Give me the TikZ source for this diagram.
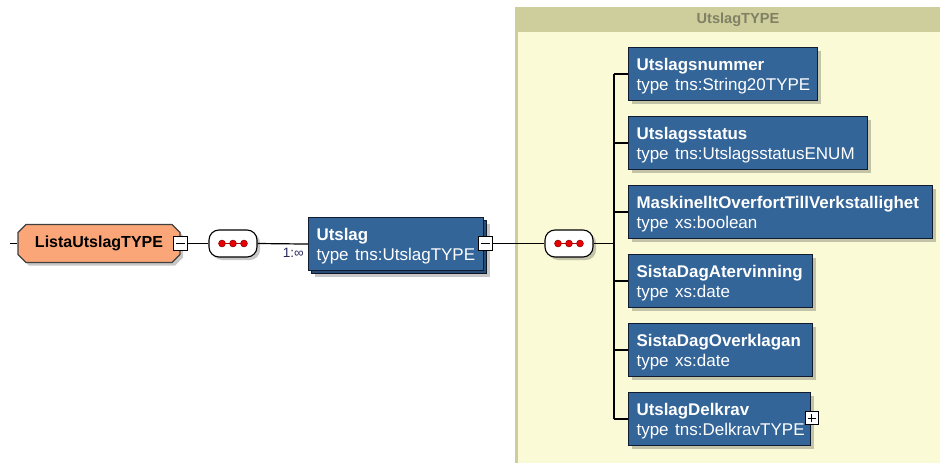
\documentclass[tikz,border=0pt]{standalone}
\usepackage{fontspec}
\setmainfont{Liberation Sans}
\usetikzlibrary{shapes.misc, shadows, positioning}
\definecolor{elemblue}{RGB}{52,101,153}
\definecolor{elemline}{RGB}{18,28,48}
\definecolor{salmon}{RGB}{251,166,120}
\definecolor{bodyyel}{RGB}{250,250,215}
\definecolor{headkhaki}{RGB}{206,206,156}
\definecolor{headtext}{RGB}{128,128,100}
\definecolor{multcol}{RGB}{40,40,90}
\definecolor{dotred}{RGB}{235,0,0}

\begin{document}
\begin{tikzpicture}[x=1pt,y=-1pt,
  shade/.style={drop shadow={shadow xshift=3pt,shadow yshift=-3pt,fill=black,opacity=.22}},
  elem/.style={draw=elemline, line width=1.1pt, fill=elemblue, text=white, align=left,
    anchor=north west, minimum height=53pt, inner xsep=8pt, inner ysep=0pt,
    font=\fontsize{17}{20}\selectfont, shade},
  oct/.style={chamfered rectangle, chamfered rectangle xsep=4pt, chamfered rectangle ysep=4pt,
    draw=black!75, line width=1.1pt, fill=salmon, minimum width=162pt, minimum height=38pt,
    inner sep=0pt, font=\bfseries\fontsize{16}{20}\selectfont, shade},
  seq/.style={draw=black, line width=1.1pt, fill=white, rounded corners=10pt,
    minimum width=48pt, minimum height=27pt, shade},
  pm/.style={draw=black, line width=1pt, fill=white, minimum size=14pt, inner sep=0pt},
  wire/.style={line width=1.2pt, black}]

\useasboundingbox (0,0) rectangle (940,463);

% complex type area
\fill[bodyyel] (515,7) rectangle (940,463);
\fill[headkhaki] (515,7) rectangle (940,32);
\fill[headkhaki] (515,7) rectangle (518,463);
\node[font=\bfseries\fontsize{14.6}{16}\selectfont, text=headtext] (H) at (738,20) {UtslagTYPE};

% left part
\coordinate (IN) at (10,243.5);
\node[oct] (L) at (99,243.5) {ListaUtslagTYPE};
\node[pm] (LM) at (180,243.5) {};
\node[seq] (S1) at (233,243.5) {};
\node[elem, minimum width=175pt, text=elemblue] (UB) at (311,220) {~};
\node[elem, text width=159pt] (U) at (308,217)
  {\rule{0pt}{16pt}{\fontsize{16.9}{20}\bfseries Utslag}\\\mbox{type\hskip6.5pt tns:UtslagTYPE}};
\node[pm] (UM) at (485,243.5) {};
\node[anchor=north east, font=\fontsize{13.5}{15}\selectfont, text=multcol, inner sep=0pt]
  (M) at ([xshift=-4pt,yshift=-4pt]U.west) {1:∞};
\node[seq] (S2) at (569,243.5) {};
\coordinate (J) at (614,243.5);

\draw[wire] (IN) -- (L.west);
\draw[wire] (LM.east) -- (S1.west);
\draw[wire] (S1.east) -- (U.west);
\draw[wire] (UM.east) -- (S2.west);
\draw[wire] (S2.east) -- (J);

% children
\foreach \n/\t/\s/\w [count=\i from 0] in {UN/Utslagsnummer/tns:String20TYPE/173,
    US/Utslagsstatus/tns:UtslagsstatusENUM/223,
    MO/MaskinelltOverfortTillVerkstallighet/xs:boolean/288,
    SA/SistaDagAtervinning/xs:date/168,
    SO/SistaDagOverklagan/xs:date/168,
    UD/UtslagDelkrav/tns:DelkravTYPE/166}
  \node[elem, text width=\w pt] (\n) at (628,{47+69*\i})
    {\rule{0pt}{16pt}\mbox{\fontsize{16.9}{20}\bfseries\t}\\\mbox{type\hskip6.5pt \s}};

\draw[wire] (J |- UN.west) -- (J |- UD.west);
\foreach \n in {UN,US,MO,SA,SO,UD}
  \draw[wire] (J |- \n.west) -- (\n.west);

\node[pm, minimum size=13pt] (UP) at (811.5,418) {};

% minus and plus signs
\foreach \n in {LM,UM}
  \draw[line width=1pt] ([xshift=3pt]\n.west) -- ([xshift=-3pt]\n.east);
\draw[line width=1pt] ([xshift=3pt]UP.west) -- ([xshift=-3pt]UP.east);
\draw[line width=1pt] ([yshift=3pt]UP.south) -- ([yshift=-3pt]UP.north);

% sequence dots
\foreach \s in {S1,S2} {
  \draw[line width=1pt, dotred!70!black] ([xshift=-11pt]\s.center) -- ([xshift=11pt]\s.center);
  \foreach \d in {-11,0,11}
    \filldraw[fill=dotred, draw=dotred!60!black, line width=.6pt] ([xshift=\d pt]\s.center) circle (3.4pt);
}
\end{tikzpicture}
\end{document}
